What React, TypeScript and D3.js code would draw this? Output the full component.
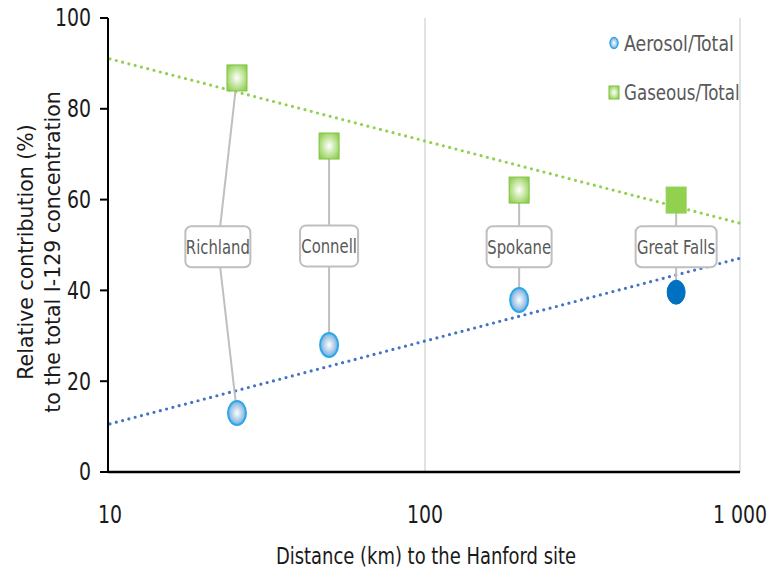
import React from 'react'
import * as d3 from 'd3'

// sites along the plume, distance from Hanford (km)
const sites = ['Richland', 'Connell', 'Spokane', 'Great Falls']
const distance = [25.3, 49.6, 199, 627]
const aerosol = [13, 28, 37.9, 39.6]
const gaseous = [86.8, 71.8, 62.1, 59.9]
// label boxes (distance, %), Richland box sits left of its points
const labelDist = [22, 49.6, 199, 627]
const labelPct = [49.6, 49.8, 49.6, 49.6]
// Excel log trendlines, end values read at 10 and 1000 km
const trendX = [10, 1000]
const aerosolTrend = [10.6, 47.1]
const gaseousTrend = [91, 54.8]

const yTicks = [0, 20, 40, 60, 80, 100]
const xTicks = [10, 100, 1000]
const xTickLabels = ['10', '100', '1 000']

const FONT = "'Liberation Sans Narrow', 'DejaVu Sans Condensed', sans-serif"
const GREEN = '#92D050'
const BLUE = '#4472C4'
const GREY_TXT = '#595959'

// text stretched a little, the source image is taller than wide
const T = ({ x, y, size, sx = 1, sy = 1.2, anchor = 'start', fill = '#1a1a1a', children }: any) => (
  <g transform={`translate(${x}, ${y}) scale(${sx}, ${sy})`}>
    <text x={0} y={0} dy="0.35em" textAnchor={anchor} fontSize={size} fill={fill}>{children}</text>
  </g>
)

const App = () => {
  const left = 110
  const right = 740
  const top = 18
  const bottom = 472

  const x = d3.scaleLog().domain([10, 1000]).range([left, right])
  const y = d3.scaleLinear().domain([0, 100]).range([bottom, top])

  const trend = d3.line<number>()
    .x((_, i) => x(trendX[i]))
    .y((d) => y(d))

  const boxW = [65, 58, 65, 81]
  const boxH = 41

  return (
    <svg width={768} height={570} style={{ position: 'absolute', left: 0, top: 0, background: '#fff' }}
      fontFamily={FONT}>
      <defs>
        <radialGradient id="gGreen" cx="50%" cy="50%" r="60%">
          <stop offset="0%" stopColor="#ffffff" />
          <stop offset="100%" stopColor={GREEN} />
        </radialGradient>
        <radialGradient id="gBlue" cx="50%" cy="50%" r="60%">
          <stop offset="0%" stopColor="#ffffff" />
          <stop offset="100%" stopColor="#5B9BD5" />
        </radialGradient>
      </defs>

      {/* vertical gridlines */}
      {xTicks.slice(1).map((t) => (
        <line key={t} x1={x(t)} x2={x(t)} y1={top} y2={bottom} stroke="#D9D9D9" strokeWidth={1.5} />
      ))}

      {/* trendlines */}
      <path d={trend(gaseousTrend) ?? ''} fill="none" stroke={GREEN} strokeWidth={3.2}
        strokeDasharray="0 6.5" strokeLinecap="round" />
      <path d={trend(aerosolTrend) ?? ''} fill="none" stroke={BLUE} strokeWidth={3.2}
        strokeDasharray="0 6.5" strokeLinecap="round" />

      {/* axes */}
      <line x1={left - 2} x2={left - 2} y1={top} y2={bottom} stroke="#000" strokeWidth={2} />
      <line x1={left - 2} x2={right} y1={bottom} y2={bottom} stroke="#000" strokeWidth={2.5} />
      {yTicks.map((t) => (
        <g key={t}>
          <line x1={left - 10} x2={left - 2} y1={y(t)} y2={y(t)} stroke="#000" strokeWidth={2} />
          <T x={left - 19} y={y(t)} size={20} sx={1.05} anchor="end">{t}</T>
        </g>
      ))}
      {xTicks.map((t, i) => (
        <T key={t} x={x(t)} y={515} size={20} sx={1.05} anchor="middle">{xTickLabels[i]}</T>
      ))}

      <T x={426} y={556} size={19} sx={1.05} anchor="middle">Distance (km) to the Hanford site</T>
      <g transform="translate(0, 252) rotate(-90)" fontFamily="'DejaVu Sans', sans-serif" fontSize={20.5} fill="#1a1a1a">
        <text x={0} y={33} textAnchor="middle">Relative contribution (%)</text>
        <text x={0} y={60} textAnchor="middle">to the total I-129 concentration</text>
      </g>

      {/* leader lines from labels to points */}
      {sites.map((s, i) => (
        <g key={s}>
          <line x1={x(labelDist[i])} y1={y(labelPct[i])} x2={x(distance[i])} y2={y(gaseous[i])}
            stroke="#BFBFBF" strokeWidth={2} />
          <line x1={x(labelDist[i])} y1={y(labelPct[i])} x2={x(distance[i])} y2={y(aerosol[i])}
            stroke="#BFBFBF" strokeWidth={2} />
        </g>
      ))}

      {/* points */}
      {sites.map((s, i) => {
        const solid = i === sites.length - 1
        return (
          <g key={s}>
            <rect x={x(distance[i]) - 10} y={y(gaseous[i]) - 13} width={20} height={26}
              fill={solid ? GREEN : 'url(#gGreen)'} stroke={solid ? GREEN : '#7DC243'} strokeWidth={1} />
            <ellipse cx={x(distance[i])} cy={y(aerosol[i])} rx={9} ry={12}
              fill={solid ? '#0070C0' : 'url(#gBlue)'} stroke={solid ? '#0070C0' : '#2AA8E8'} strokeWidth={solid ? 1 : 2} />
          </g>
        )
      })}

      {/* labels */}
      {sites.map((s, i) => (
        <g key={s} transform={`translate(${x(labelDist[i])}, ${y(labelPct[i])})`}>
          <rect x={-boxW[i] / 2} y={-boxH / 2} width={boxW[i]} height={boxH} rx={6}
            fill="#fff" stroke="#BFBFBF" strokeWidth={2} />
          <T x={0} y={0} size={16.5} sy={1.2} anchor="middle" fill={GREY_TXT}>{s}</T>
        </g>
      ))}

      {/* legend */}
      <ellipse cx={614} cy={43} rx={4} ry={5.5} fill="url(#gBlue)" stroke="#2AA8E8" strokeWidth={1.5} />
      <T x={624} y={43} size={18} sx={1.07} fill={GREY_TXT}>Aerosol/Total</T>
      <rect x={609} y={86} width={10} height={13} fill="url(#gGreen)" stroke="#7DC243" strokeWidth={1} />
      <T x={624} y={92} size={18} sx={1.03} fill={GREY_TXT}>Gaseous/Total</T>
    </svg>
  )
}

export default App
